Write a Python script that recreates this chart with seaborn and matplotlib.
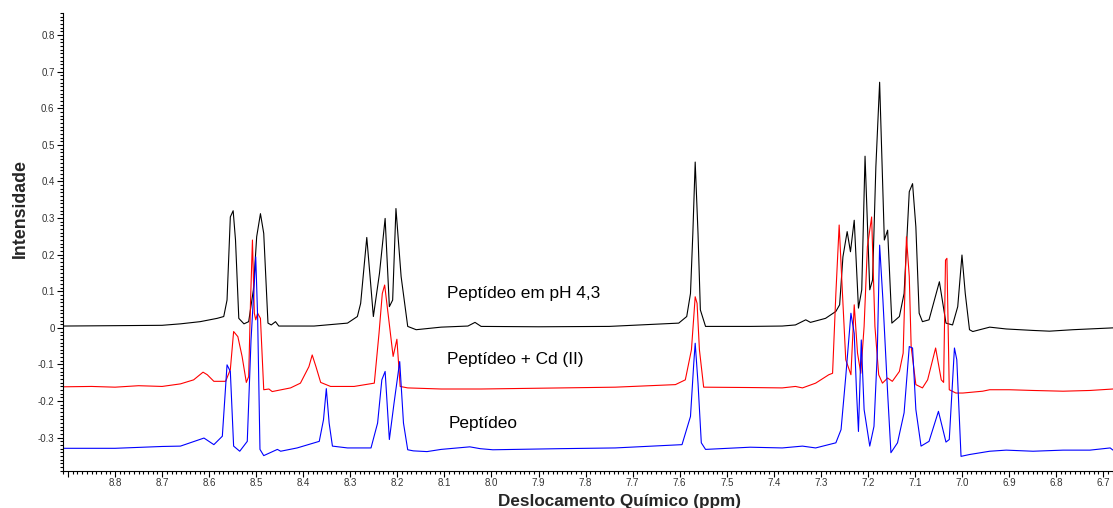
import numpy as np
import pandas as pd
import seaborn as sns
import matplotlib
matplotlib.use("Agg")
import matplotlib.pyplot as plt
from matplotlib.ticker import MultipleLocator, FuncFormatter

# spectra (ppm, intensity)
black_ppm = [8.910, 8.80, 8.70, 8.661, 8.619, 8.583, 8.569, 8.562, 8.555, 8.549, 8.544, 8.537, 8.526, 8.516,
             8.506, 8.499, 8.491, 8.484, 8.475, 8.468, 8.459, 8.452, 8.377, 8.306, 8.285, 8.278, 8.265, 8.258,
             8.251, 8.238, 8.226, 8.217, 8.210, 8.203, 8.192, 8.178, 8.160, 8.107, 8.05, 8.035, 8.022, 7.90,
             7.75, 7.602, 7.585, 7.577, 7.572, 7.567, 7.561, 7.556, 7.545, 7.45, 7.382, 7.354, 7.332, 7.322,
             7.290, 7.268, 7.260, 7.253, 7.244, 7.237, 7.229, 7.220, 7.213, 7.206, 7.196, 7.190, 7.183, 7.175,
             7.165, 7.158, 7.149, 7.133, 7.123, 7.112, 7.105, 7.098, 7.091, 7.084, 7.070, 7.048, 7.034, 7.020,
             7.009, 7.000, 6.993, 6.984, 6.977, 6.941, 6.906, 6.849, 6.814, 6.764, 6.679]
black_int = [0.005, 0.006, 0.007, 0.011, 0.017, 0.026, 0.031, 0.076, 0.303, 0.320, 0.240, 0.026, 0.011, 0.017,
             0.104, 0.249, 0.312, 0.258, 0.013, 0.008, 0.017, 0.005, 0.005, 0.013, 0.031, 0.067, 0.247, 0.140,
             0.031, 0.149, 0.299, 0.058, 0.076, 0.326, 0.140, 0.004, -0.005, 0.002, 0.005, 0.015, 0.004, 0.003,
             0.004, 0.013, 0.031, 0.094, 0.258, 0.453, 0.258, 0.049, 0.004, 0.004, 0.005, 0.008, 0.022, 0.015,
             0.026, 0.045, 0.063, 0.194, 0.263, 0.208, 0.294, 0.054, 0.104, 0.469, 0.104, 0.131, 0.440, 0.671,
             0.240, 0.267, 0.013, 0.031, 0.094, 0.372, 0.394, 0.276, 0.040, 0.017, 0.022, 0.126, 0.013, 0.008,
             0.058, 0.199, 0.094, -0.005, -0.010, 0.002, -0.003, -0.007, -0.009, -0.005, 0.0]

red_ppm = [8.910, 8.85, 8.80, 8.75, 8.70, 8.661, 8.633, 8.613, 8.604, 8.590, 8.565, 8.555, 8.548, 8.539,
           8.530, 8.521, 8.516, 8.512, 8.508, 8.504, 8.501, 8.497, 8.491, 8.484, 8.473, 8.466, 8.427, 8.406,
           8.388, 8.381, 8.373, 8.363, 8.342, 8.292, 8.249, 8.239, 8.232, 8.227, 8.219, 8.209, 8.201, 8.194,
           8.178, 8.107, 8.022, 7.85, 7.737, 7.609, 7.588, 7.575, 7.567, 7.563, 7.558, 7.549, 7.45, 7.382,
           7.354, 7.339, 7.311, 7.283, 7.275, 7.268, 7.261, 7.254, 7.247, 7.236, 7.229, 7.222, 7.215, 7.208,
           7.201, 7.192, 7.185, 7.177, 7.169, 7.158, 7.148, 7.133, 7.125, 7.118, 7.112, 7.108, 7.098, 7.084,
           7.073, 7.056, 7.044, 7.039, 7.035, 7.032, 7.027, 7.013, 6.998, 6.956, 6.941, 6.899, 6.849, 6.785,
           6.728, 6.679]
red_int = [-0.161, -0.160, -0.162, -0.158, -0.160, -0.153, -0.142, -0.121, -0.128, -0.146, -0.146, -0.114,
           -0.010, -0.024, -0.078, -0.149, -0.133, 0.076, 0.240, 0.040, 0.022, 0.040, 0.026, -0.169, -0.167,
           -0.174, -0.164, -0.151, -0.106, -0.074, -0.106, -0.149, -0.160, -0.160, -0.151, -0.015, 0.094,
           0.117, 0.031, -0.078, -0.031, -0.160, -0.164, -0.167, -0.167, -0.164, -0.162, -0.155, -0.142,
           -0.060, 0.085, 0.067, -0.060, -0.162, -0.163, -0.164, -0.160, -0.164, -0.151, -0.128, -0.124,
           0.094, 0.281, 0.094, -0.087, -0.128, 0.063, -0.069, -0.124, 0.004, 0.222, 0.303, 0.004, -0.128,
           -0.151, -0.137, -0.146, -0.119, -0.069, 0.249, 0.140, -0.051, -0.155, -0.164, -0.142, -0.055,
           -0.142, -0.149, 0.185, 0.190, -0.169, -0.178, -0.178, -0.173, -0.169, -0.169, -0.171, -0.173,
           -0.171, -0.167]

blue_ppm = [8.910, 8.80, 8.70, 8.661, 8.611, 8.590, 8.572, 8.562, 8.555, 8.548, 8.535, 8.519, 8.511, 8.501,
            8.497, 8.492, 8.484, 8.455, 8.448, 8.413, 8.366, 8.357, 8.351, 8.345, 8.338, 8.306, 8.256, 8.242,
            8.233, 8.226, 8.217, 8.207, 8.195, 8.187, 8.178, 8.166, 8.137, 8.107, 8.046, 8.024, 7.997, 7.855,
            7.737, 7.595, 7.577, 7.570, 7.567, 7.561, 7.554, 7.545, 7.45, 7.382, 7.339, 7.311, 7.268, 7.257,
            7.247, 7.236, 7.229, 7.224, 7.220, 7.214, 7.208, 7.196, 7.187, 7.180, 7.175, 7.168, 7.158, 7.151,
            7.137, 7.123, 7.112, 7.105, 7.098, 7.087, 7.070, 7.050, 7.034, 7.027, 7.016, 7.011, 7.002, 6.984,
            6.941, 6.906, 6.849, 6.785, 6.728, 6.685, 6.679]
blue_int = [-0.329, -0.329, -0.324, -0.323, -0.301, -0.319, -0.296, -0.101, -0.119, -0.323, -0.337, -0.310,
            -0.033, 0.194, 0.031, -0.332, -0.349, -0.332, -0.337, -0.328, -0.310, -0.251, -0.166, -0.260,
            -0.323, -0.328, -0.328, -0.260, -0.142, -0.119, -0.305, -0.205, -0.092, -0.260, -0.333, -0.336,
            -0.338, -0.332, -0.325, -0.330, -0.333, -0.330, -0.328, -0.319, -0.242, -0.096, -0.042, -0.151,
            -0.314, -0.332, -0.326, -0.328, -0.323, -0.328, -0.314, -0.278, -0.133, 0.040, -0.015, -0.178,
            -0.283, -0.033, -0.223, -0.323, -0.269, -0.069, 0.226, 0.076, -0.178, -0.341, -0.314, -0.232,
            -0.051, -0.055, -0.223, -0.323, -0.310, -0.228, -0.312, -0.305, -0.055, -0.087, -0.351, -0.346,
            -0.337, -0.334, -0.337, -0.334, -0.334, -0.328, -0.334]

labels = ["Peptídeo em pH 4,3", "Peptídeo + Cd (II)", "Peptídeo"]
label_ppm = [8.094, 8.094, 8.090]
label_int = [0.095, -0.087, -0.260]

sns.set_style("ticks")
plt.rcParams['font.family'] = ['Liberation Sans', 'DejaVu Sans']
plt.rcParams['axes.unicode_minus'] = False

df = pd.concat([
    pd.DataFrame({"ppm": black_ppm, "int": black_int, "s": "black"}),
    pd.DataFrame({"ppm": red_ppm, "int": red_int, "s": "red"}),
    pd.DataFrame({"ppm": blue_ppm, "int": blue_int, "s": "blue"}),
])

fig = plt.figure(figsize=(11.13, 5.08), dpi=100)
ax = fig.add_axes([63.3 / 1113, 1 - 471 / 508, 1 - 63.3 / 1113, (471 - 12.7) / 508])

sns.lineplot(data=df, x="ppm", y="int", hue="s", palette={"black": "#000000", "red": "#ff0000", "blue": "#0000ff"},
             estimator=None, sort=False, legend=False, linewidth=0.8, ax=ax)

for t, x, y in zip(labels, label_ppm, label_int):
    ax.text(x, y, t, ha="left", va="center", fontsize=12.4, color="black")

ax.set_xlim(8.910, 6.679)
ax.set_ylim(-0.391, 0.861)

ax.xaxis.set_major_locator(MultipleLocator(0.1))
ax.xaxis.set_minor_locator(MultipleLocator(0.01))
ax.yaxis.set_major_locator(MultipleLocator(0.1))
ax.yaxis.set_minor_locator(MultipleLocator(0.01))
ax.xaxis.set_major_formatter(FuncFormatter(lambda v, p: "" if v > 8.85 else "%.1f" % v))
ax.yaxis.set_major_formatter(FuncFormatter(lambda v, p: "0" if abs(v) < 1e-9 else "%.1f" % v))

ax.tick_params(which="major", length=4.3, width=0.8, labelsize=7, colors="black", labelcolor="#333333")
ax.tick_params(axis="x", which="major", pad=0.8)
ax.tick_params(axis="y", which="major", pad=2)
ax.tick_params(which="minor", length=2.2, width=0.8, colors="black")

sns.despine(ax=ax)
for s in ["left", "bottom"]:
    ax.spines[s].set_linewidth(0.8)
    ax.spines[s].set_color("black")

ax.set_xlabel("Deslocamento Químico (ppm)", fontsize=12.3, fontweight="bold")
ax.set_ylabel("Intensidade", fontsize=12.8, fontweight="bold")
ax.xaxis.set_label_coords(0.53, -0.051)
ax.yaxis.set_label_coords(-0.033, 0.572)

fig.savefig("out.png", dpi=100)
